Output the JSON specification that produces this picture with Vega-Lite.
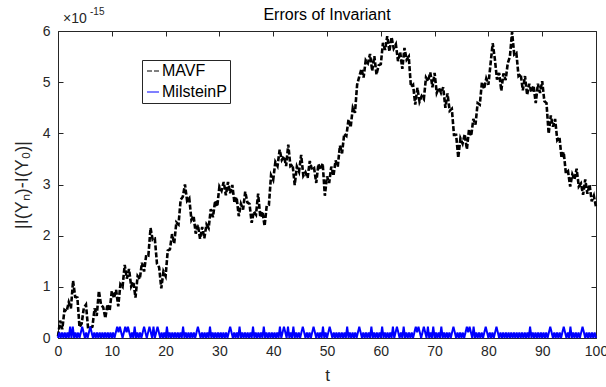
{
  "$schema": "https://vega.github.io/schema/vega-lite/v6.json",
  "width": 538,
  "height": 307,
  "autosize": {"type": "none"},
  "padding": {"left": 58, "top": 31, "right": 10, "bottom": 49},
  "title": {"text": "Errors of Invariant", "font": "Liberation Sans", "fontSize": 16, "fontWeight": "normal", "color": "#000000", "anchor": "middle", "baseline": "alphabetic", "offset": -29},
  "config": {
    "view": {"stroke": null},
    "font": "Liberation Sans",
    "axis": {"grid": false, "domainColor": "#262626", "domainWidth": 1, "tickColor": "#262626", "tickWidth": 1, "labelColor": "#262626", "labelFont": "Liberation Sans", "labelFontSize": 14, "titleFont": "Liberation Sans", "titleFontWeight": "normal", "titleColor": "#262626", "titleFontSize": 17, "labelFlush": false, "labelOverlap": false}
  },
  "datasets": {
    "mavf": [
      {"t":0,"err":0.03},{"t":0.4,"err":0.34},{"t":0.8,"err":0.17},{"t":1.2,"err":0.55},{"t":1.6,"err":0.52},{"t":2,"err":0.7},{"t":2.4,"err":0.58},{"t":2.8,"err":1.12},{"t":3.2,"err":0.8},{"t":3.6,"err":0.79},
      {"t":4,"err":0.21},{"t":4.4,"err":0.28},{"t":4.8,"err":0.59},{"t":5.2,"err":0.65},{"t":5.6,"err":0.18},{"t":6,"err":0.2},{"t":6.4,"err":0.22},{"t":6.8,"err":0.58},{"t":7.2,"err":0.43},{"t":7.6,"err":0.92},
      {"t":8,"err":0.65},{"t":8.4,"err":0.6},{"t":8.8,"err":0.39},{"t":9.2,"err":0.66},{"t":9.6,"err":0.53},{"t":10,"err":0.92},{"t":10.4,"err":0.78},{"t":10.8,"err":0.94},{"t":11.2,"err":0.62},{"t":11.6,"err":1.05},
      {"t":12,"err":1.0},{"t":12.4,"err":1.43},{"t":12.8,"err":1.16},{"t":13.2,"err":1.35},{"t":13.6,"err":1.01},{"t":14,"err":1.1},{"t":14.4,"err":0.79},{"t":14.8,"err":1.21},{"t":15.2,"err":1.15},{"t":15.6,"err":1.47},
      {"t":16,"err":1.3},{"t":16.4,"err":1.62},{"t":16.8,"err":1.61},{"t":17.2,"err":2.15},{"t":17.6,"err":1.92},{"t":18,"err":1.94},{"t":18.4,"err":1.45},{"t":18.8,"err":1.38},{"t":19.2,"err":0.97},{"t":19.6,"err":1.3},
      {"t":20,"err":1.21},{"t":20.4,"err":1.71},{"t":20.8,"err":1.73},{"t":21.2,"err":2.03},{"t":21.6,"err":1.85},{"t":22,"err":2.26},{"t":22.4,"err":2.22},{"t":22.8,"err":2.7},{"t":23.2,"err":2.76},{"t":23.6,"err":3.0},
      {"t":24,"err":2.68},{"t":24.4,"err":2.73},{"t":24.8,"err":2.31},{"t":25.2,"err":2.39},{"t":25.6,"err":2.04},{"t":26,"err":2.21},{"t":26.4,"err":1.94},{"t":26.8,"err":2.17},{"t":27.2,"err":1.95},{"t":27.6,"err":2.22},
      {"t":28,"err":2.15},{"t":28.4,"err":2.52},{"t":28.8,"err":2.36},{"t":29.2,"err":2.68},{"t":29.6,"err":2.57},{"t":30,"err":2.96},{"t":30.4,"err":2.88},{"t":30.8,"err":3.05},{"t":31.2,"err":2.79},{"t":31.6,"err":3.05},
      {"t":32,"err":2.83},{"t":32.4,"err":2.99},{"t":32.8,"err":2.64},{"t":33.2,"err":2.75},{"t":33.6,"err":2.38},{"t":34,"err":2.62},{"t":34.4,"err":2.51},{"t":34.8,"err":2.86},{"t":35.2,"err":2.65},{"t":35.6,"err":2.62},
      {"t":36,"err":2.25},{"t":36.4,"err":2.47},{"t":36.8,"err":2.41},{"t":37.2,"err":2.82},{"t":37.6,"err":2.36},{"t":38,"err":2.47},{"t":38.4,"err":2.19},{"t":38.8,"err":2.59},{"t":39.2,"err":2.6},{"t":39.6,"err":3.18},
      {"t":40,"err":3.09},{"t":40.4,"err":3.44},{"t":40.8,"err":3.36},{"t":41.2,"err":3.68},{"t":41.6,"err":3.48},{"t":42,"err":3.55},{"t":42.4,"err":3.36},{"t":42.8,"err":3.78},{"t":43.2,"err":3.36},{"t":43.6,"err":3.39},
      {"t":44,"err":2.99},{"t":44.4,"err":3.35},{"t":44.8,"err":3.25},{"t":45.2,"err":3.58},{"t":45.6,"err":3.17},{"t":46,"err":3.24},{"t":46.4,"err":3.13},{"t":46.8,"err":3.46},{"t":47.2,"err":3.29},{"t":47.6,"err":3.32},
      {"t":48,"err":3.03},{"t":48.4,"err":3.4},{"t":48.8,"err":3.29},{"t":49.2,"err":3.41},{"t":49.6,"err":2.78},{"t":50,"err":3.16},{"t":50.4,"err":3.03},{"t":50.8,"err":3.35},{"t":51.2,"err":3.17},{"t":51.6,"err":3.47},
      {"t":52,"err":3.35},{"t":52.4,"err":3.76},{"t":52.8,"err":3.61},{"t":53.2,"err":3.99},{"t":53.6,"err":3.95},{"t":54,"err":4.27},{"t":54.4,"err":4.12},{"t":54.8,"err":4.5},{"t":55.2,"err":4.4},{"t":55.6,"err":4.95},
      {"t":56,"err":5.11},{"t":56.4,"err":5.26},{"t":56.8,"err":5.09},{"t":57.2,"err":5.43},{"t":57.6,"err":5.37},{"t":58,"err":5.55},{"t":58.4,"err":5.22},{"t":58.8,"err":5.51},{"t":59.2,"err":5.15},{"t":59.6,"err":5.33},
      {"t":60,"err":5.35},{"t":60.4,"err":5.77},{"t":60.8,"err":5.63},{"t":61.2,"err":5.9},{"t":61.6,"err":5.6},{"t":62,"err":5.88},{"t":62.4,"err":5.66},{"t":62.8,"err":5.74},{"t":63.2,"err":5.41},{"t":63.6,"err":5.59},
      {"t":64,"err":5.26},{"t":64.4,"err":5.67},{"t":64.8,"err":5.44},{"t":65.2,"err":5.5},{"t":65.6,"err":4.91},{"t":66,"err":4.95},{"t":66.4,"err":4.56},{"t":66.8,"err":4.89},{"t":67.2,"err":4.62},{"t":67.6,"err":4.73},
      {"t":68,"err":4.67},{"t":68.4,"err":5.09},{"t":68.8,"err":5.02},{"t":69.2,"err":5.19},{"t":69.6,"err":4.9},{"t":70,"err":5.18},{"t":70.4,"err":4.79},{"t":70.8,"err":4.89},{"t":71.2,"err":4.79},{"t":71.6,"err":4.9},
      {"t":72,"err":4.5},{"t":72.4,"err":4.78},{"t":72.8,"err":4.44},{"t":73.2,"err":4.48},{"t":73.6,"err":3.97},{"t":74,"err":3.97},{"t":74.4,"err":3.52},{"t":74.8,"err":3.9},{"t":75.2,"err":3.8},{"t":75.6,"err":3.98},
      {"t":76,"err":3.69},{"t":76.4,"err":4.08},{"t":76.8,"err":3.95},{"t":77.2,"err":4.28},{"t":77.6,"err":4.17},{"t":78,"err":4.59},{"t":78.4,"err":4.56},{"t":78.8,"err":5.0},{"t":79.2,"err":4.87},{"t":79.6,"err":5.07},
      {"t":80,"err":4.95},{"t":80.4,"err":5.36},{"t":80.8,"err":5.76},{"t":81.2,"err":5.45},{"t":81.6,"err":5.05},{"t":82,"err":5.18},{"t":82.4,"err":4.83},{"t":82.8,"err":5.17},{"t":83.2,"err":5.04},{"t":83.6,"err":5.37},
      {"t":84,"err":5.5},{"t":84.4,"err":5.98},{"t":84.8,"err":5.54},{"t":85.2,"err":5.57},{"t":85.6,"err":5.12},{"t":86,"err":5.16},{"t":86.4,"err":4.84},{"t":86.8,"err":5.12},{"t":87.2,"err":4.75},{"t":87.6,"err":4.97},
      {"t":88,"err":4.8},{"t":88.4,"err":4.93},{"t":88.8,"err":4.59},{"t":89.2,"err":4.97},{"t":89.6,"err":4.79},{"t":90,"err":5.02},{"t":90.4,"err":4.63},{"t":90.8,"err":4.59},{"t":91.2,"err":3.99},{"t":91.6,"err":4.35},
      {"t":92,"err":4.13},{"t":92.4,"err":4.28},{"t":92.8,"err":3.87},{"t":93.2,"err":3.93},{"t":93.6,"err":3.52},{"t":94,"err":3.63},{"t":94.4,"err":3.22},{"t":94.8,"err":3.26},{"t":95.2,"err":2.96},{"t":95.6,"err":3.2},
      {"t":96,"err":3.1},{"t":96.4,"err":3.31},{"t":96.8,"err":2.96},{"t":97.2,"err":3.02},{"t":97.6,"err":2.8},{"t":98,"err":3.1},{"t":98.4,"err":2.82},{"t":98.8,"err":3.0},{"t":99.2,"err":2.67},{"t":99.6,"err":2.78},
      {"t":100,"err":2.56}
    ],
    "milstein": [
      {"t":0,"err":0},{"t":0.25,"err":0.11},{"t":0.5,"err":0},{"t":0.75,"err":0.11},
      {"t":1,"err":0},{"t":1.25,"err":0.11},{"t":1.5,"err":0},{"t":1.75,"err":0.11},
      {"t":2,"err":0},{"t":2.25,"err":0.22},{"t":2.5,"err":0},{"t":2.75,"err":0.22},
      {"t":3,"err":0},{"t":3.25,"err":0.11},{"t":3.5,"err":0},{"t":3.75,"err":0.11},
      {"t":4,"err":0},{"t":4.25,"err":0.11},{"t":4.5,"err":0.22},{"t":4.75,"err":0.11},
      {"t":5,"err":0},{"t":5.25,"err":0.11},{"t":5.5,"err":0},{"t":5.75,"err":0.11},
      {"t":6,"err":0.22},{"t":6.25,"err":0.11},{"t":6.5,"err":0},{"t":6.75,"err":0.11},
      {"t":7,"err":0},{"t":7.25,"err":0.11},{"t":7.5,"err":0},{"t":7.75,"err":0.11},
      {"t":8,"err":0},{"t":8.25,"err":0.11},{"t":8.5,"err":0},{"t":8.75,"err":0.11},
      {"t":9,"err":0},{"t":9.25,"err":0.11},{"t":9.5,"err":0},{"t":9.75,"err":0.11},
      {"t":10,"err":0},{"t":10.25,"err":0.11},{"t":10.5,"err":0},{"t":10.75,"err":0.11},
      {"t":11,"err":0.22},{"t":11.25,"err":0.11},{"t":11.5,"err":0.22},{"t":11.75,"err":0.11},
      {"t":12,"err":0},{"t":12.25,"err":0.11},{"t":12.5,"err":0.22},{"t":12.75,"err":0.11},
      {"t":13,"err":0.22},{"t":13.25,"err":0.11},{"t":13.5,"err":0},{"t":13.75,"err":0.11},
      {"t":14,"err":0},{"t":14.25,"err":0.22},{"t":14.5,"err":0},{"t":14.75,"err":0.11},
      {"t":15,"err":0},{"t":15.25,"err":0.11},{"t":15.5,"err":0},{"t":15.75,"err":0.11},
      {"t":16,"err":0.22},{"t":16.25,"err":0.11},{"t":16.5,"err":0},{"t":16.75,"err":0.11},
      {"t":17,"err":0.22},{"t":17.25,"err":0.11},{"t":17.5,"err":0},{"t":17.75,"err":0.22},
      {"t":18,"err":0},{"t":18.25,"err":0.11},{"t":18.5,"err":0.22},{"t":18.75,"err":0.11},
      {"t":19,"err":0},{"t":19.25,"err":0.11},{"t":19.5,"err":0},{"t":19.75,"err":0.11},
      {"t":20,"err":0},{"t":20.25,"err":0.22},{"t":20.5,"err":0},{"t":20.75,"err":0.11},
      {"t":21,"err":0},{"t":21.25,"err":0.11},{"t":21.5,"err":0},{"t":21.75,"err":0.11},
      {"t":22,"err":0},{"t":22.25,"err":0.11},{"t":22.5,"err":0},{"t":22.75,"err":0.11},
      {"t":23,"err":0},{"t":23.25,"err":0.22},{"t":23.5,"err":0},{"t":23.75,"err":0.11},
      {"t":24,"err":0},{"t":24.25,"err":0.11},{"t":24.5,"err":0},{"t":24.75,"err":0.11},
      {"t":25,"err":0},{"t":25.25,"err":0.11},{"t":25.5,"err":0},{"t":25.75,"err":0.11},
      {"t":26,"err":0.22},{"t":26.25,"err":0.11},{"t":26.5,"err":0},{"t":26.75,"err":0.11},
      {"t":27,"err":0},{"t":27.25,"err":0.11},{"t":27.5,"err":0},{"t":27.75,"err":0.11},
      {"t":28,"err":0},{"t":28.25,"err":0.22},{"t":28.5,"err":0},{"t":28.75,"err":0.11},
      {"t":29,"err":0},{"t":29.25,"err":0.11},{"t":29.5,"err":0},{"t":29.75,"err":0.11},
      {"t":30,"err":0},{"t":30.25,"err":0.11},{"t":30.5,"err":0},{"t":30.75,"err":0.11},
      {"t":31,"err":0},{"t":31.25,"err":0.11},{"t":31.5,"err":0},{"t":31.75,"err":0.11},
      {"t":32,"err":0.22},{"t":32.25,"err":0.11},{"t":32.5,"err":0},{"t":32.75,"err":0.11},
      {"t":33,"err":0},{"t":33.25,"err":0.11},{"t":33.5,"err":0},{"t":33.75,"err":0.22},
      {"t":34,"err":0},{"t":34.25,"err":0.11},{"t":34.5,"err":0},{"t":34.75,"err":0.11},
      {"t":35,"err":0},{"t":35.25,"err":0.11},{"t":35.5,"err":0},{"t":35.75,"err":0.11},
      {"t":36,"err":0},{"t":36.25,"err":0.22},{"t":36.5,"err":0},{"t":36.75,"err":0.11},
      {"t":37,"err":0},{"t":37.25,"err":0.11},{"t":37.5,"err":0},{"t":37.75,"err":0.11},
      {"t":38,"err":0},{"t":38.25,"err":0.22},{"t":38.5,"err":0},{"t":38.75,"err":0.11},
      {"t":39,"err":0},{"t":39.25,"err":0.11},{"t":39.5,"err":0},{"t":39.75,"err":0.11},
      {"t":40,"err":0},{"t":40.25,"err":0.11},{"t":40.5,"err":0},{"t":40.75,"err":0.11},
      {"t":41,"err":0},{"t":41.25,"err":0.22},{"t":41.5,"err":0},{"t":41.75,"err":0.11},
      {"t":42,"err":0.22},{"t":42.25,"err":0.11},{"t":42.5,"err":0},{"t":42.75,"err":0.22},
      {"t":43,"err":0},{"t":43.25,"err":0.11},{"t":43.5,"err":0},{"t":43.75,"err":0.22},
      {"t":44,"err":0},{"t":44.25,"err":0.11},{"t":44.5,"err":0},{"t":44.75,"err":0.11},
      {"t":45,"err":0},{"t":45.25,"err":0.11},{"t":45.5,"err":0.22},{"t":45.75,"err":0.11},
      {"t":46,"err":0},{"t":46.25,"err":0.11},{"t":46.5,"err":0},{"t":46.75,"err":0.11},
      {"t":47,"err":0},{"t":47.25,"err":0.11},{"t":47.5,"err":0.22},{"t":47.75,"err":0.11},
      {"t":48,"err":0},{"t":48.25,"err":0.11},{"t":48.5,"err":0},{"t":48.75,"err":0.11},
      {"t":49,"err":0},{"t":49.25,"err":0.22},{"t":49.5,"err":0},{"t":49.75,"err":0.11},
      {"t":50,"err":0},{"t":50.25,"err":0.11},{"t":50.5,"err":0.22},{"t":50.75,"err":0.11},
      {"t":51,"err":0},{"t":51.25,"err":0.11},{"t":51.5,"err":0},{"t":51.75,"err":0.11},
      {"t":52,"err":0},{"t":52.25,"err":0.11},{"t":52.5,"err":0},{"t":52.75,"err":0.11},
      {"t":53,"err":0},{"t":53.25,"err":0.11},{"t":53.5,"err":0},{"t":53.75,"err":0.22},
      {"t":54,"err":0},{"t":54.25,"err":0.11},{"t":54.5,"err":0},{"t":54.75,"err":0.11},
      {"t":55,"err":0},{"t":55.25,"err":0.11},{"t":55.5,"err":0},{"t":55.75,"err":0.11},
      {"t":56,"err":0.22},{"t":56.25,"err":0.11},{"t":56.5,"err":0},{"t":56.75,"err":0.11},
      {"t":57,"err":0},{"t":57.25,"err":0.11},{"t":57.5,"err":0},{"t":57.75,"err":0.11},
      {"t":58,"err":0},{"t":58.25,"err":0.22},{"t":58.5,"err":0},{"t":58.75,"err":0.11},
      {"t":59,"err":0},{"t":59.25,"err":0.11},{"t":59.5,"err":0},{"t":59.75,"err":0.11},
      {"t":60,"err":0},{"t":60.25,"err":0.22},{"t":60.5,"err":0},{"t":60.75,"err":0.11},
      {"t":61,"err":0},{"t":61.25,"err":0.11},{"t":61.5,"err":0},{"t":61.75,"err":0.11},
      {"t":62,"err":0},{"t":62.25,"err":0.22},{"t":62.5,"err":0},{"t":62.75,"err":0.11},
      {"t":63,"err":0.22},{"t":63.25,"err":0.11},{"t":63.5,"err":0},{"t":63.75,"err":0.11},
      {"t":64,"err":0},{"t":64.25,"err":0.22},{"t":64.5,"err":0},{"t":64.75,"err":0.11},
      {"t":65,"err":0},{"t":65.25,"err":0.11},{"t":65.5,"err":0},{"t":65.75,"err":0.11},
      {"t":66,"err":0},{"t":66.25,"err":0.11},{"t":66.5,"err":0.22},{"t":66.75,"err":0.11},
      {"t":67,"err":0.22},{"t":67.25,"err":0.11},{"t":67.5,"err":0},{"t":67.75,"err":0.11},
      {"t":68,"err":0.22},{"t":68.25,"err":0.11},{"t":68.5,"err":0},{"t":68.75,"err":0.22},
      {"t":69,"err":0},{"t":69.25,"err":0.11},{"t":69.5,"err":0},{"t":69.75,"err":0.22},
      {"t":70,"err":0},{"t":70.25,"err":0.11},{"t":70.5,"err":0},{"t":70.75,"err":0.11},
      {"t":71,"err":0},{"t":71.25,"err":0.22},{"t":71.5,"err":0},{"t":71.75,"err":0.11},
      {"t":72,"err":0},{"t":72.25,"err":0.11},{"t":72.5,"err":0},{"t":72.75,"err":0.11},
      {"t":73,"err":0},{"t":73.25,"err":0.11},{"t":73.5,"err":0.22},{"t":73.75,"err":0.11},
      {"t":74,"err":0},{"t":74.25,"err":0.11},{"t":74.5,"err":0},{"t":74.75,"err":0.11},
      {"t":75,"err":0},{"t":75.25,"err":0.11},{"t":75.5,"err":0},{"t":75.75,"err":0.11},
      {"t":76,"err":0.22},{"t":76.25,"err":0.11},{"t":76.5,"err":0.22},{"t":76.75,"err":0.11},
      {"t":77,"err":0},{"t":77.25,"err":0.22},{"t":77.5,"err":0},{"t":77.75,"err":0.11},
      {"t":78,"err":0},{"t":78.25,"err":0.11},{"t":78.5,"err":0},{"t":78.75,"err":0.11},
      {"t":79,"err":0},{"t":79.25,"err":0.11},{"t":79.5,"err":0.22},{"t":79.75,"err":0.11},
      {"t":80,"err":0},{"t":80.25,"err":0.11},{"t":80.5,"err":0},{"t":80.75,"err":0.11},
      {"t":81,"err":0},{"t":81.25,"err":0.11},{"t":81.5,"err":0.22},{"t":81.75,"err":0.11},
      {"t":82,"err":0},{"t":82.25,"err":0.11},{"t":82.5,"err":0},{"t":82.75,"err":0.11},
      {"t":83,"err":0},{"t":83.25,"err":0.11},{"t":83.5,"err":0},{"t":83.75,"err":0.11},
      {"t":84,"err":0},{"t":84.25,"err":0.11},{"t":84.5,"err":0},{"t":84.75,"err":0.11},
      {"t":85,"err":0},{"t":85.25,"err":0.11},{"t":85.5,"err":0},{"t":85.75,"err":0.11},
      {"t":86,"err":0},{"t":86.25,"err":0.11},{"t":86.5,"err":0},{"t":86.75,"err":0.11},
      {"t":87,"err":0},{"t":87.25,"err":0.11},{"t":87.5,"err":0},{"t":87.75,"err":0.22},
      {"t":88,"err":0},{"t":88.25,"err":0.11},{"t":88.5,"err":0},{"t":88.75,"err":0.11},
      {"t":89,"err":0},{"t":89.25,"err":0.11},{"t":89.5,"err":0},{"t":89.75,"err":0.11},
      {"t":90,"err":0},{"t":90.25,"err":0.11},{"t":90.5,"err":0},{"t":90.75,"err":0.11},
      {"t":91,"err":0},{"t":91.25,"err":0.11},{"t":91.5,"err":0.22},{"t":91.75,"err":0.11},
      {"t":92,"err":0},{"t":92.25,"err":0.11},{"t":92.5,"err":0},{"t":92.75,"err":0.11},
      {"t":93,"err":0},{"t":93.25,"err":0.11},{"t":93.5,"err":0},{"t":93.75,"err":0.11},
      {"t":94,"err":0.22},{"t":94.25,"err":0.11},{"t":94.5,"err":0},{"t":94.75,"err":0.11},
      {"t":95,"err":0},{"t":95.25,"err":0.22},{"t":95.5,"err":0},{"t":95.75,"err":0.11},
      {"t":96,"err":0},{"t":96.25,"err":0.11},{"t":96.5,"err":0},{"t":96.75,"err":0.11},
      {"t":97,"err":0},{"t":97.25,"err":0.11},{"t":97.5,"err":0.22},{"t":97.75,"err":0.11},
      {"t":98,"err":0},{"t":98.25,"err":0.11},{"t":98.5,"err":0},{"t":98.75,"err":0.11},
      {"t":99,"err":0},{"t":99.25,"err":0.11},{"t":99.5,"err":0},{"t":99.75,"err":0.11},
      {"t":100,"err":0}
    ]
  },
  "layer": [
    {
      "data": {"name": "mavf"},
      "mark": {"type": "line", "strokeWidth": 2.6},
      "encoding": {
        "x": {"field": "t", "type": "quantitative", "scale": {"domain": [0, 100], "nice": false},
              "axis": {"orient": "bottom", "values": [0,10,20,30,40,50,60,70,80,90,100], "tickSize": -5, "labelPadding": 11, "title": "t", "titleY": 42, "titleBaseline": "alphabetic"}},
        "y": {"field": "err", "type": "quantitative", "scale": {"domain": [0, 6], "nice": false},
              "axis": {"orient": "left", "values": [0,1,2,3,4,5,6], "tickSize": -5, "labelPadding": 13, "title": "|I(Yₙ)-I(Y₀)|", "titleFontSize": 18, "titleX": -36, "titleY": 153.5, "titleAngle": -90, "titleAlign": "center", "titleBaseline": "middle"}},
        "color": {"datum": "MAVF", "type": "nominal", "scale": {"domain": ["MAVF", "MilsteinP"], "range": ["#000000", "#0000ff"]},
                  "legend": {"title": null, "orient": "none", "legendX": 84, "legendY": 29, "strokeColor": "#262626", "fillColor": "#ffffff", "padding": 3, "labelFont": "Liberation Sans", "labelFontSize": 16, "labelColor": "#000000", "labelOffset": 1, "rowPadding": 5, "symbolSize": 144, "symbolStrokeWidth": 1}},
        "strokeDash": {"datum": "MAVF", "type": "nominal", "scale": {"domain": ["MAVF", "MilsteinP"], "range": [[5, 2], [1, 0]]},
                       "legend": {"title": null, "orient": "none", "legendX": 84, "legendY": 29, "strokeColor": "#262626", "fillColor": "#ffffff", "padding": 3, "labelFont": "Liberation Sans", "labelFontSize": 16, "labelColor": "#000000", "labelOffset": 1, "rowPadding": 5, "symbolSize": 144, "symbolStrokeWidth": 1}}
      }
    },
    {
      "data": {"name": "milstein"},
      "mark": {"type": "line", "strokeWidth": 2},
      "encoding": {
        "x": {"field": "t", "type": "quantitative", "axis": null},
        "y": {"field": "err", "type": "quantitative", "axis": null},
        "color": {"datum": "MilsteinP", "type": "nominal"},
        "strokeDash": {"datum": "MilsteinP", "type": "nominal"}
      }
    },
    {
      "data": {"values": [{"s": "×10"}]},
      "mark": {"type": "text", "align": "left", "baseline": "alphabetic", "dx": 5, "dy": -8, "fontSize": 14, "font": "Liberation Sans", "color": "#262626"},
      "encoding": {
        "x": {"datum": 0, "type": "quantitative", "axis": {"orient": "top", "values": [0,10,20,30,40,50,60,70,80,90,100], "tickSize": -5, "labels": false, "title": null}},
        "y": {"datum": 6, "type": "quantitative", "axis": {"orient": "right", "values": [0,1,2,3,4,5,6], "tickSize": -5, "labels": false, "title": null}},
        "text": {"field": "s"}
      }
    },
    {
      "data": {"values": [{"s": "-15"}]},
      "mark": {"type": "text", "align": "left", "baseline": "alphabetic", "dx": 32, "dy": -16, "fontSize": 10, "font": "Liberation Sans", "color": "#262626"},
      "encoding": {
        "x": {"datum": 0, "type": "quantitative", "axis": null},
        "y": {"datum": 6, "type": "quantitative", "axis": null},
        "text": {"field": "s"}
      }
    }
  ],
  "resolve": {"axis": {"x": "independent", "y": "independent"}}
}
